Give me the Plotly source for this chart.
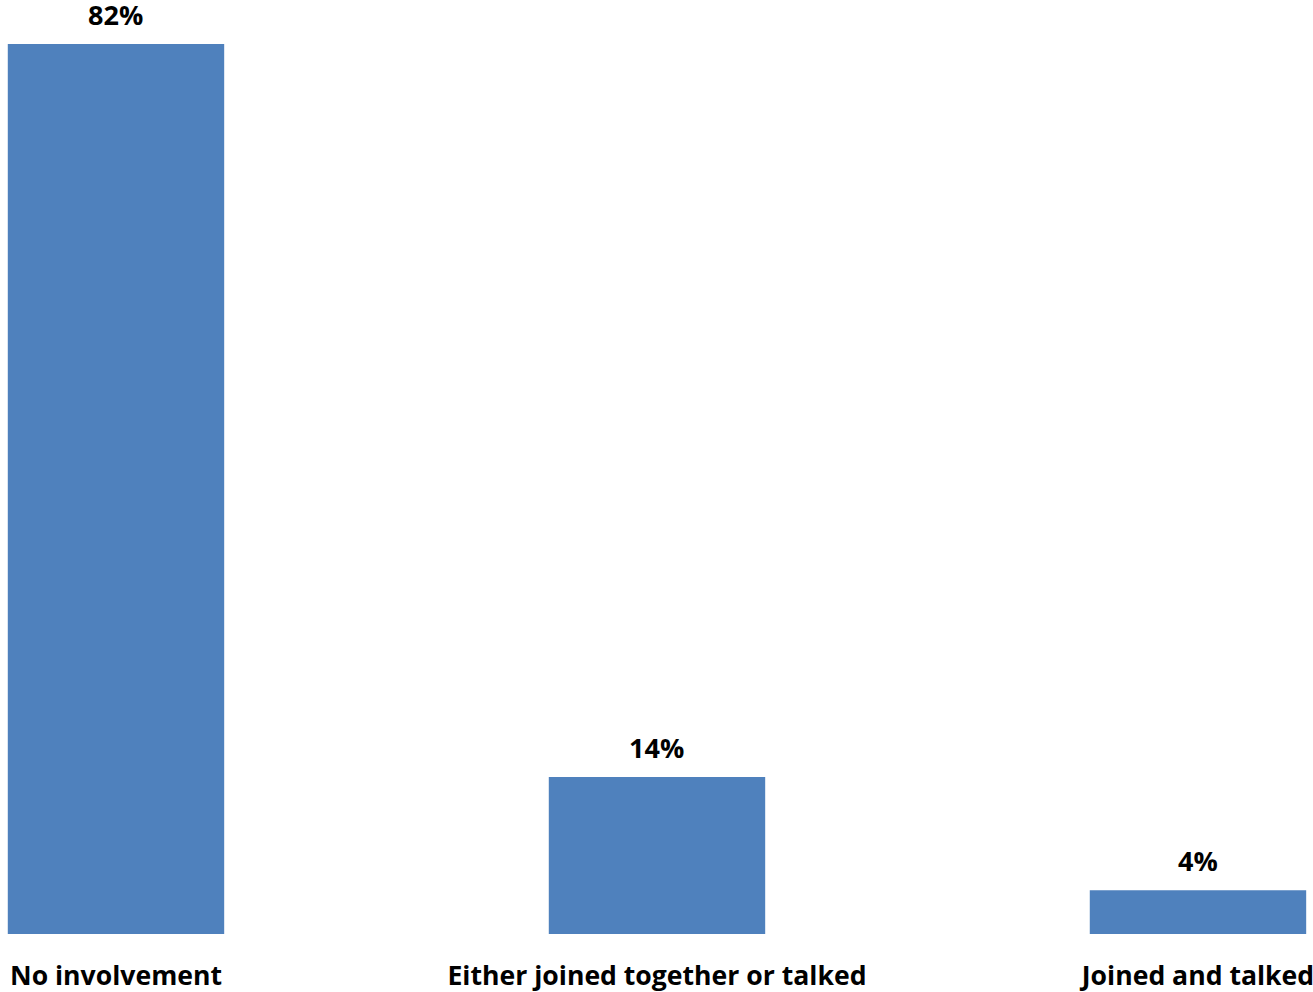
import plotly.graph_objects as go

categories = ["No involvement", "Either joined together or talked", "Joined and talked"]
values = [81.6, 14.4, 4.0]
value_labels = ["82%", "14%", "4%"]

FONT = "Open Sans"

fig = go.Figure()
fig.add_trace(go.Bar(x=categories, y=values, marker=dict(color="#4F81BD", line=dict(width=0)),
                     hoverinfo="skip"))

for c, v, t in zip(categories, values, value_labels):
    fig.add_annotation(x=c, y=v, text="<b>" + t + "</b>", showarrow=False, yanchor="bottom",
                       yshift=9, font=dict(family=FONT, size=27, color="black"))

fig.update_layout(
    width=1313, height=992,
    margin=dict(l=0, r=0, t=0, b=58),
    paper_bgcolor="white", plot_bgcolor="white",
    bargap=0.6, showlegend=False,
    font=dict(family=FONT, color="black"),
)
fig.update_xaxes(range=[-0.2144, 2.2126], showgrid=False, showline=False, ticks="",
                 tickfont=dict(family=FONT, size=26.6, color="black", weight="bold"),
                 ticklabelstandoff=23)
fig.update_yaxes(range=[0, 85.63], visible=False, showgrid=False)

fig.write_html("out.html", config={"displayModeBar": False},
               post_script="document.body.style.margin='0';document.body.style.overflow='hidden';")
